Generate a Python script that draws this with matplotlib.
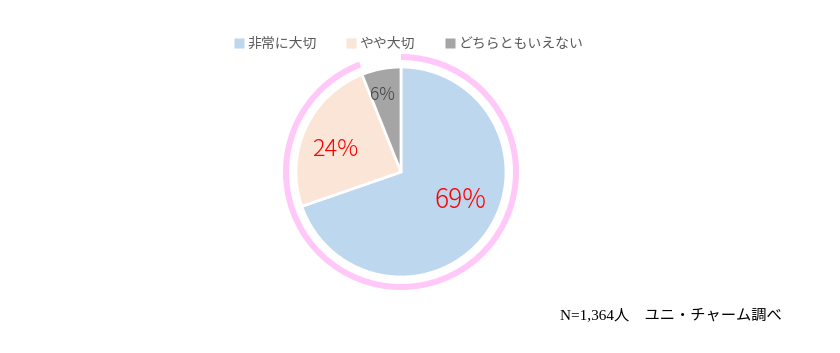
import matplotlib.pyplot as plt
from matplotlib.patches import Wedge
from matplotlib.lines import Line2D

plt.rcParams['font.family'] = ['Noto Sans CJK JP', 'DejaVu Sans']

# データ
categories = ["非常に大切", "やや大切", "どちらともいえない"]
values = [69, 24, 6]
pct_labels = ["69%", "24%", "6%"]
colors = ["#BDD7EE", "#FBE5D6", "#A5A5A5"]
label_colors = ["#FF0000", "#FF0000", "#404040"]
label_sizes = [19, 17, 12.5]
note = "N=1,364人　ユニ・チャーム調べ"

W, H = 840, 353
fig = plt.figure(figsize=(W / 100, H / 100), dpi=100)
ax = fig.add_axes([0, 0, 1, 1])

cx, cy = 401, H - 172
r = 105

wedges, _ = ax.pie(values, colors=colors, startangle=90, counterclock=False,
                   center=(cx, cy), radius=r, frame=True,
                   wedgeprops=dict(edgecolor="white", linewidth=2))
ax.set_xlim(0, W)
ax.set_ylim(0, H)
ax.set_aspect("equal")
ax.axis("off")

# ピンクのリング（どちらともいえない部分を除く）
gap = wedges[2]
ring = Wedge((cx, cy), 118, gap.theta2 - 1, 450, width=6,
             facecolor="#FFC8F8", edgecolor="none")
ax.add_patch(ring)

# ラベル位置（中心からのオフセット）
offsets = [(59, -28), (-66, 22), (-19, 77)]
for (dx, dy), t, c, s in zip(offsets, pct_labels, label_colors, label_sizes):
    ax.text(cx + dx, cy + dy, t, color=c, fontsize=s, ha="center", va="center",
            fontweight="light")

# 凡例
handles = [Line2D([], [], marker="s", linestyle="none", markersize=7,
                  markerfacecolor=c, markeredgecolor="none") for c in colors]
fig.legend(handles, categories, loc="center", bbox_to_anchor=(0.485, 1 - 44 / H),
           ncol=3, frameon=False, fontsize=10, handletextpad=0.1,
           columnspacing=2.0, labelcolor="#595959", handlelength=1.0)

ax.text(782, H - 315, note, fontsize=11, ha="right", va="center", color="black",
        family=["Liberation Serif", "Noto Sans CJK JP"])

fig.savefig("out.png", dpi=100)
